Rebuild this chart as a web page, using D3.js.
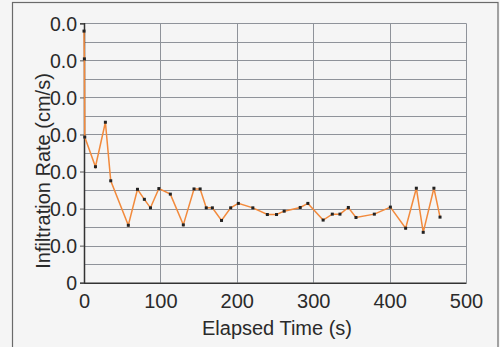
<!DOCTYPE html>
<html><head><meta charset="utf-8">
<script src="https://cdn.jsdelivr.net/npm/d3@7"></script>
<style>
html,body{margin:0;padding:0;background:#f5f5f5;}
svg{display:block;}
text{font-family:"Liberation Sans",Arial,sans-serif;fill:#2a2a2a;}
</style></head><body>
<script>
const times = [0,0.5,1,15,28,35,58,70,79,87,98,113,130,144,152,160,168,180,192,202,221,240,252,262,283,293,313,325,335,346,356,380,401,421,435,444,458,466];
const rates = [0.0679,0.0604,0.0393,0.0313,0.0433,0.0275,0.0155,0.0252,0.0225,0.0202,0.0254,0.0239,0.0156,0.0253,0.0253,0.0202,0.0202,0.0168,0.0202,0.0214,0.0202,0.0184,0.0184,0.0193,0.0203,0.0214,0.0169,0.0185,0.0185,0.0203,0.0176,0.0185,0.0204,0.0147,0.0255,0.0136,0.0255,0.0177];
const xTicks = [0,100,200,300,400,500];
const yTicks = [0,0.01,0.02,0.03,0.04,0.05,0.06,0.07];
const yMinor = [0.005,0.015,0.025,0.035,0.045,0.055,0.065];
const xTitle = "Elapsed Time (s)";
const yTitle = "Infiltration Rate (cm/s)";

const W=500,H=347;
const svg=d3.select("body").append("svg").attr("width",W).attr("height",H);
svg.append("rect").attr("x",12.5).attr("y",2.5).attr("width",485.5).attr("height",H).attr("fill","#f5f5f5").attr("stroke","#6a6a6a").attr("stroke-width",1.2);

const x=d3.scaleLinear().domain([0,500]).range([84,466]);
const y=d3.scaleLinear().domain([0,0.07]).range([282.7,23.3]);

const g=svg.append("g");
g.selectAll("line.hm").data(yMinor.concat(yTicks.slice(1))).join("line")
 .attr("x1",x(0)).attr("x2",x(500)).attr("y1",d=>Math.round(y(d))+0.5).attr("y2",d=>Math.round(y(d))+0.5)
 .attr("stroke","#8f939a").attr("stroke-width",1);
g.selectAll("line.vg").data(xTicks.slice(1)).join("line")
 .attr("y1",y(0)).attr("y2",y(0.07)).attr("x1",d=>Math.round(x(d))+0.5).attr("x2",d=>Math.round(x(d))+0.5)
 .attr("stroke","#8f939a").attr("stroke-width",1);

const truncFmt=d=>d===0?"0":(Math.trunc(d*10)/10).toFixed(1);
const xAxis=d3.axisBottom(x).tickValues(xTicks).tickSize(0).tickPadding(10).tickFormat(d3.format("d"));
const yAxis=d3.axisLeft(y).tickValues(yTicks).tickSize(4).tickPadding(3).tickFormat(truncFmt);
const gx=svg.append("g").attr("transform",`translate(0,${y(0)})`).call(xAxis);
gx.select(".domain").attr("stroke","#333").attr("stroke-width",1.5);
gx.selectAll("text").attr("font-size",20).attr("fill","#2a2a2a").attr("dy","0.75em");
const gy=svg.append("g").attr("transform",`translate(${x(0)},0)`).call(yAxis);
gy.select(".domain").attr("stroke","#333").attr("stroke-width",1.5);
gy.selectAll(".tick line").attr("stroke","#555");
gy.selectAll("text").attr("font-size",19.5).attr("fill","#2a2a2a").attr("dy","0.36em");

svg.append("text").attr("x",277).attr("y",335).attr("text-anchor","middle").attr("font-size",20).text(xTitle);
svg.append("text").attr("transform","translate(50,171) rotate(-90)").attr("text-anchor","middle").attr("font-size",20).attr("fill","#2f3a33").text(yTitle);

const data=times.map((t,i)=>({t,v:rates[i]}));
const line=d3.line().x(d=>x(d.t)).y(d=>y(d.v));
svg.append("path").datum(data).attr("d",line).attr("fill","none").attr("stroke","#f28a3c").attr("stroke-width",1.5);
svg.selectAll("rect.pt").data(data).join("rect").attr("class","pt")
 .attr("x",d=>x(d.t)-1.5).attr("y",d=>y(d.v)-1.5).attr("width",3).attr("height",3).attr("fill","#222");
</script>
</body></html>
